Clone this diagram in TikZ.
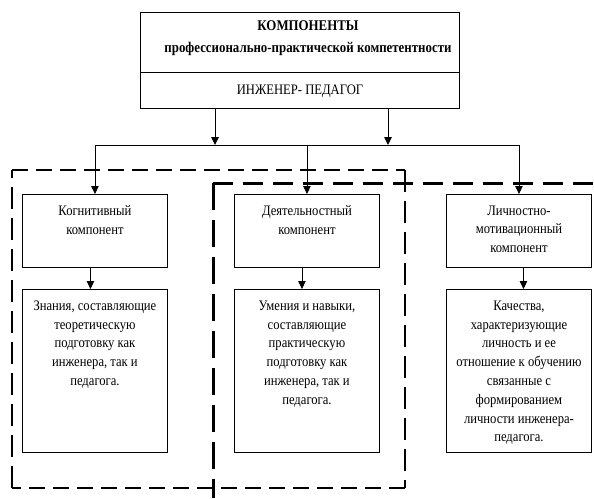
\documentclass[tikz,border=0pt]{standalone}
\usepackage{fontspec}
\setmainfont{Liberation Serif}[FakeStretch=0.87]
\usetikzlibrary{arrows.meta}
\begin{document}
\begin{tikzpicture}[x=1pt,y=-1pt,
  box/.style={draw, line width=0.9pt, inner sep=0pt, anchor=north west, minimum width=145pt},
  txt/.style={anchor=north, align=center, inner sep=0pt, font=\fontsize{14.5}{18.8}\selectfont},
  arr/.style={line width=0.9pt, -{Triangle[length=8pt,width=7.5pt]}},
  conn/.style={line width=0.9pt},
  dashoneh/.style={line width=1.7pt, dash pattern=on 16pt off 8pt},
  dashonev/.style={line width=1.7pt, dash pattern=on 22pt off 9pt},
  dashtwoh/.style={line width=3pt, dash pattern=on 20pt off 10pt},
  dashtwov/.style={line width=3pt, dash pattern=on 27pt off 10pt}]
\useasboundingbox (0,0) rectangle (594,498);
% dashed groupings
\coordinate (r1a) at (12,170);
\coordinate (r1b) at (405,170);
\coordinate (r1c) at (405,488);
\coordinate (r1d) at (12,488);
\draw[dashoneh] (r1a) -- (r1b);
\draw[dashonev] (r1b) -- (r1c);
\draw[dashoneh] (r1c) -- (r1d);
\draw[dashonev] (r1d) -- (r1a);
\coordinate (r2a) at (213,183);
\coordinate (r2b) at (594,183);
\coordinate (r2d) at (213,498);
\draw[dashtwoh] (r2a) -- (r2b);
\draw[dashtwov] (r2a) -- (r2d);
% top boxes
\node[box, minimum width=319pt, minimum height=60pt] (T1) at (140,12) {};
\node[box, minimum width=319pt, minimum height=36pt] (T2) at (140,72) {};
\node[align=center, inner sep=0pt, font=\bfseries\fontsize{14.8}{22}\selectfont] (title) at (308,38) {КОМПОНЕНТЫ\\профессионально-практической компетентности};
\node[inner sep=0pt, font=\fontsize{14.5}{18.8}\selectfont] (sub) at (300,91) {ИНЖЕНЕР- ПЕДАГОГ};
% component boxes
\node[box, minimum height=73pt] (A) at (22,194) {};
\node[box, minimum height=73pt] (B) at (234,194) {};
\node[box, minimum height=73pt] (C) at (446,194) {};
\node[box, minimum height=163pt] (A2) at (22,289) {};
\node[box, minimum height=163pt] (B2) at (234,289) {};
\node[box, minimum height=163pt] (C2) at (446,289) {};
\node[txt] (At) at ([yshift=-11.5pt]A.north) {Когнитивный\\компонент};
\node[txt] (Bt) at ([yshift=-11.5pt]B.north) {Деятельностный\\компонент};
\node[txt] (Ct) at ([yshift=-11.5pt]C.north) {Личностно-\\мотивационный\\компонент};
\node[txt] (A2t) at ([yshift=-11.5pt]A2.north) {Знания, составляющие\\теоретическую\\подготовку как\\инженера, так и\\педагога.};
\node[txt] (B2t) at ([yshift=-11.5pt]B2.north) {Умения и навыки,\\составляющие\\практическую\\подготовку как\\инженера, так и\\педагога.};
\node[txt] (C2t) at ([yshift=-11.5pt]C2.north) {Качества,\\характеризующие\\личность и ее\\отношение к обучению\\связанные с\\формированием\\личности инженера-\\педагога.};
% connectors
\coordinate (j1) at (215,145);
\coordinate (j2) at (388,145);
\draw[arr] (T2.south -| j1) -- (j1);
\draw[arr] (T2.south -| j2) -- (j2);
\draw[conn] (A.north |- j1) -- (C.north |- j1);
\draw[arr] (A.north |- j1) -- (A.north);
\draw[arr] (B.north |- j1) -- (B.north);
\draw[arr] (C.north |- j1) -- (C.north);
\draw[arr] ([xshift=-4.5pt]A.south) -- ([xshift=-4.5pt]A2.north);
\draw[arr] ([xshift=-5pt]B.south) -- ([xshift=-5pt]B2.north);
\draw[arr] ([xshift=4.5pt]C.south) -- ([xshift=4.5pt]C2.north);
\end{tikzpicture}
\end{document}
